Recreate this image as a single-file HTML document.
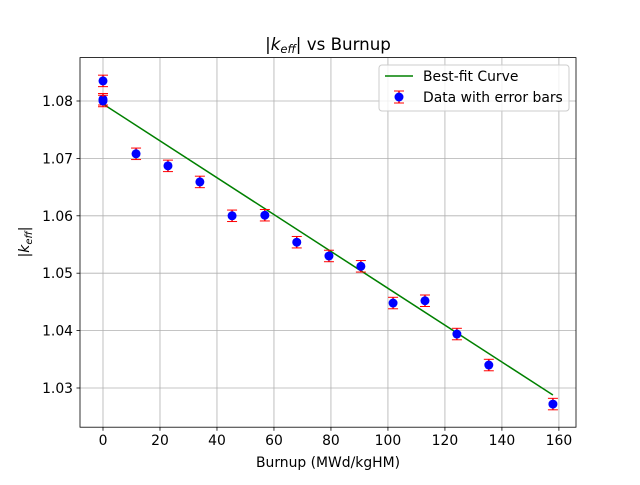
<!DOCTYPE html>
<html><head><meta charset="utf-8"><style>
body{margin:0;background:#fff;}
svg text{font-family:"DejaVu Sans","Liberation Sans",sans-serif;}
</style></head><body>
<svg id="chart" width="640" height="480" xmlns="http://www.w3.org/2000/svg"></svg>
<script>
const burnup = [0, 0, 0, 11.6, 22.8, 34, 45.3, 56.8, 68, 79.3, 90.5, 101.8, 113, 124.2, 135.4, 157.9];
const keff = [1.0835, 1.0803, 1.0800, 1.0708, 1.0687, 1.0659, 1.0600, 1.0601, 1.0554, 1.0530, 1.0512, 1.0448, 1.0452, 1.0394, 1.0340, 1.0272];
const keffErr = [0.001, 0.001, 0.001, 0.001, 0.001, 0.001, 0.001, 0.001, 0.001, 0.001, 0.001, 0.001, 0.001, 0.001, 0.001, 0.001];
const fitX = [0, 157.9];
const fitY = [1.07948, 1.02878];
const xTicks = [0, 20, 40, 60, 80, 100, 120, 140, 160];
const yTicks = [1.03, 1.04, 1.05, 1.06, 1.07, 1.08];

const svg = document.getElementById('chart');
const NS = 'http://www.w3.org/2000/svg';
const L=80,R=576,T=57.6,B=427.2;
const xMin=-8.07,xMax=166.0,yMin=1.02317,yMax=1.08756;
const sx=v=>L+(v-xMin)/(xMax-xMin)*(R-L);
const sy=v=>B-(v-yMin)/(yMax-yMin)*(B-T);
function mk(tag,attrs,parent){const e=document.createElementNS(NS,tag);for(const k in attrs)e.setAttribute(k,attrs[k]);(parent||svg).appendChild(e);return e;}

mk('rect',{x:0,y:0,width:640,height:480,fill:'#fff'});
const grid=mk('g',{});


xTicks.forEach(t=>{const x=sx(t);
 mk('line',{x1:x,x2:x,y1:T,y2:B,stroke:'#b0b0b0','stroke-width':0.8},grid);
 mk('line',{x1:x,x2:x,y1:B,y2:B+3.5,stroke:'#000','stroke-width':0.8});
 const tx=mk('text',{x:x,y:B+18,'font-size':13.9,'text-anchor':'middle'});tx.textContent=t;
 
 
});
yTicks.forEach(t=>{const y=sy(t);
 mk('line',{x1:L,x2:R,y1:y,y2:y,stroke:'#b0b0b0','stroke-width':0.8},grid);
 mk('line',{x1:L-3.5,x2:L,y1:y,y2:y,stroke:'#000','stroke-width':0.8});
 const tx=mk('text',{x:L-7,y:y+5,'font-size':13.9,'text-anchor':'end'});tx.textContent=t.toFixed(2);
 
 
});
const fit=mk('line',{x1:sx(fitX[0]),y1:sy(fitY[0]),x2:sx(fitX[1]),y2:sy(fitY[1]),stroke:'green','stroke-width':1.5});


burnup.forEach((b,i)=>{const x=sx(b),y1=sy(keff[i]-keffErr[i]),y2=sy(keff[i]+keffErr[i]);
 const g=mk('g',{});
 
 
 mk('line',{x1:x,x2:x,y1:y1,y2:y2,stroke:'red','stroke-width':1.5},g);
 mk('line',{x1:x-5,x2:x+5,y1:y1,y2:y1,stroke:'red','stroke-width':1},g);
 mk('line',{x1:x-5,x2:x+5,y1:y2,y2:y2,stroke:'red','stroke-width':1},g);
 mk('circle',{cx:x,cy:sy(keff[i]),r:4.5,fill:'blue'},g);
});
const frame=mk('rect',{x:L,y:T,width:R-L,height:B-T,fill:'none',stroke:'#000','stroke-width':0.8});


</script>
<svg width="640" height="480" style="position:absolute;left:0;top:0" xmlns="http://www.w3.org/2000/svg">
<text x="328" y="50" font-size="16.7" text-anchor="middle">|<tspan font-style="italic">k</tspan><tspan font-style="italic" font-size="11.5" dy="3">eff</tspan><tspan dy="-3">| vs Burnup</tspan></text>
<text x="328" y="467" font-size="13.9" text-anchor="middle">Burnup (MWd/kgHM)</text>
<text transform="translate(29,242) rotate(-90)" font-size="13.9" text-anchor="middle">|<tspan font-style="italic">k</tspan><tspan font-style="italic" font-size="10" dy="3">eff</tspan><tspan dy="-3">|</tspan></text>
<g>
<rect x="379" y="65" width="190" height="46" rx="3" fill="#fff" fill-opacity="0.8" stroke="#ccc"/>
<line x1="385" x2="413" y1="76" y2="76" stroke="green" stroke-width="1.5"/>
<text x="423" y="81" font-size="13.9">Best-fit Curve</text>
<line x1="399" x2="399" y1="91" y2="103" stroke="red" stroke-width="1.5"/>
<line x1="394" x2="404" y1="91" y2="91" stroke="red"/>
<line x1="394" x2="404" y1="103" y2="103" stroke="red"/>
<circle cx="399" cy="97" r="4.5" fill="blue"/>
<text x="423" y="102" font-size="13.9">Data with error bars</text>
</g>
</svg>
</body></html>
